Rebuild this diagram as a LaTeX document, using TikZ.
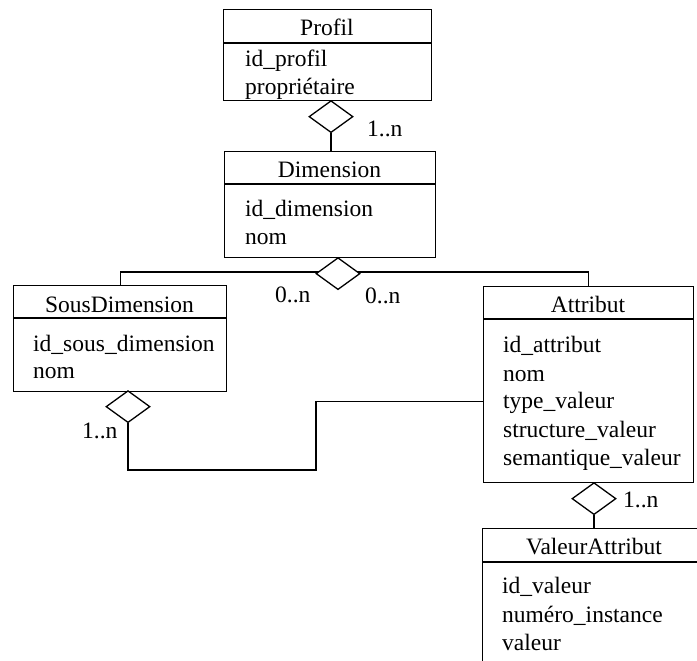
\documentclass[tikz,border=0pt]{standalone}
\usepackage{fontspec}
\setmainfont{Liberation Serif}
\usetikzlibrary{shapes.geometric}
\begin{document}
\begin{tikzpicture}[
    x=1pt, y=-1pt,
    classe/.style={draw, line width=1.3pt, anchor=north west, inner sep=0pt},
    titre/.style={anchor=base, inner sep=0pt, font=\fontsize{23.5}{28}\selectfont},
    champ/.style={anchor=base west, inner sep=0pt, font=\fontsize{23.5}{28}\selectfont},
    card/.style={anchor=base west, inner sep=0pt, font=\fontsize{23.5}{28}\selectfont},
    agreg/.style={draw, diamond, line width=1.3pt, anchor=north, inner sep=0pt,
                  minimum width=44pt, minimum height=32pt, fill=white},
    lien/.style={line width=1.3pt},
    sep/.style={line width=1.3pt}
  ]
    \useasboundingbox (0,0) rectangle (697,661);
    \clip (0,0) rectangle (697,661);

    % classes
    \node[classe, minimum width=208pt, minimum height=91pt]  (profil)    at (223,9)   {};
    \node[classe, minimum width=211pt, minimum height=106pt] (dimension) at (224,151) {};
    \node[classe, minimum width=213pt, minimum height=106pt] (sousdim)   at (13,285)  {};
    \node[classe, minimum width=210pt, minimum height=196pt] (attribut)  at (483,286) {};
    \node[classe, minimum width=224pt, minimum height=160pt] (valeur)    at (482,528) {};

    \draw[sep] ([yshift=-34pt]profil.north west)    -- ([yshift=-34pt]profil.north east);
    \draw[sep] ([yshift=-33pt]dimension.north west) -- ([yshift=-33pt]dimension.north east);
    \draw[sep] ([yshift=-33pt]sousdim.north west)   -- ([yshift=-33pt]sousdim.north east);
    \draw[sep] ([yshift=-33pt]attribut.north west)  -- ([yshift=-33pt]attribut.north east);
    \draw[sep] ([yshift=-34pt]valeur.north west)    -- ([yshift=-34pt]valeur.north east);

    % titres et champs
    \node[titre] (profilT)    at (327,36)    {Profil};
    \node[champ] (profil1)    at (245,67)    {id\_profil};
    \node[champ] (profil2)    at (245,95)    {propriétaire};

    \node[titre] (dimensionT) at (329.5,177) {Dimension};
    \node[champ] (dimension1) at (245,216)   {id\_dimension};
    \node[champ] (dimension2) at (245,244)   {nom};

    \node[titre] (sousdimT)   at (119.5,312) {SousDimension};
    \node[champ] (sousdim1)   at (33,351)    {id\_sous\_dimension};
    \node[champ] (sousdim2)   at (33,378)    {nom};

    \node[titre] (attributT)  at (588,312)   {Attribut};
    \node[champ] (attribut1)  at (503,352)   {id\_attribut};
    \node[champ] (attribut2)  at (503,381)   {nom};
    \node[champ] (attribut3)  at (503,408)   {type\_valeur};
    \node[champ] (attribut4)  at (503,437)   {structure\_valeur};
    \node[champ] (attribut5)  at (503,465)   {semantique\_valeur};

    \node[titre] (valeurT)    at (594,554)   {ValeurAttribut};
    \node[champ] (valeur1)    at (502,593)   {id\_valeur};
    \node[champ] (valeur2)    at (502,622)   {numéro\_instance};
    \node[champ] (valeur3)    at (502,650)   {valeur};

    % liens
    \coordinate (coude) at (316,470);
    \draw[lien] (338,272) -| (sousdim.north);
    \draw[lien] (338,272) -| (attribut.north);
    \node[agreg] (aggProfil)   at (331,100) {};
    \node[agreg] (aggDim)      at (338,257) {};
    \node[agreg] (aggSousDim)  at (128,390) {};
    \node[agreg] (aggAttribut) at (594,482) {};

    \draw[lien] (aggProfil.south)   -- (aggProfil.south |- dimension.north);
    \draw[lien] (aggSousDim.south)  |- (coude) |- ([yshift=-17pt]attribut.west);
    \draw[lien] (aggAttribut.south) -- (aggAttribut.south |- valeur.north);

    % cardinalites
    \node[card] (c1) at (367,136) {1..n};
    \node[card] (c2) at (275,302) {0..n};
    \node[card] (c3) at (365,303) {0..n};
    \node[card] (c4) at (82,438)  {1..n};
    \node[card] (c5) at (623,507) {1..n};
  \end{tikzpicture}
\end{document}
